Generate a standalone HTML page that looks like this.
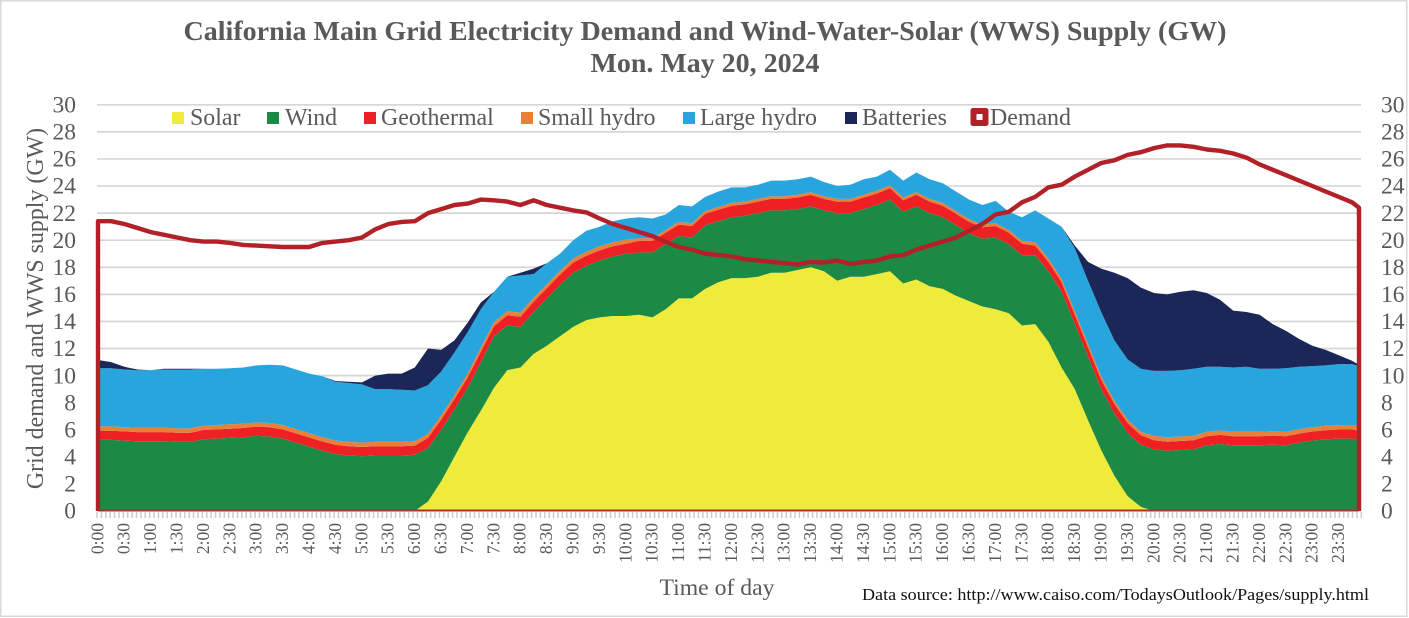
<!DOCTYPE html>
<html lang="en">
<head>
<meta charset="utf-8">
<title>California Main Grid Electricity Demand and WWS Supply</title>
<style>
html,body{margin:0;padding:0;background:#fff;}
svg{display:block;font-family:"Liberation Serif","Times New Roman",serif;}
</style>
</head>
<body>
<svg id="chart" xmlns="http://www.w3.org/2000/svg" width="1409" height="618" viewBox="0 0 1409 618">
  <rect x="0" y="0" width="1409" height="618" fill="#ffffff"/>
  <rect x="0.75" y="0.75" width="1406" height="615.5" fill="none" stroke="#d9d9d9" stroke-width="1.5"/>
  <text x="705" y="40" text-anchor="middle" font-size="27.5" font-weight="bold" fill="#595959" textLength="1043" lengthAdjust="spacingAndGlyphs">California Main Grid Electricity Demand and Wind-Water-Solar (WWS) Supply (GW)</text>
  <text x="705" y="72" text-anchor="middle" font-size="27.5" font-weight="bold" fill="#595959" textLength="229" lengthAdjust="spacingAndGlyphs">Mon. May 20, 2024</text>
  <g id="grid"></g>
  <g id="areas"></g>
  <g id="xticks"></g>
  <g id="xlabels"></g>
  <g id="ylabels"></g>
  <g id="demand"></g>
  <g font-size="23.9" fill="#595959">
    <g><rect x="172" y="112" width="12" height="12" fill="#EFEB3A"/><text x="190" y="125">Solar</text></g>
    <g><rect x="267" y="112" width="12" height="12" fill="#1C8A45"/><text x="285" y="125">Wind</text></g>
    <g><rect x="364" y="112" width="12" height="12" fill="#EE2024"/><text x="381" y="125">Geothermal</text></g>
    <g><rect x="521" y="112" width="12" height="12" fill="#E8803A"/><text x="538" y="125">Small hydro</text></g>
    <g><rect x="683" y="112" width="12" height="12" fill="#29A5DE"/><text x="700" y="125">Large hydro</text></g>
    <g><rect x="845" y="112" width="12" height="12" fill="#1C2759"/><text x="862" y="125">Batteries</text></g>
    <g><rect x="970.5" y="108" width="18" height="18" rx="2.5" fill="#B22128"/><rect x="976.5" y="114" width="6" height="6" fill="#ffffff"/><text x="990" y="125">Demand</text></g>
  </g>
  <text transform="translate(43,308.5) rotate(-90)" text-anchor="middle" font-size="23.9" fill="#595959">Grid demand and WWS supply (GW)</text>
  <text x="717" y="595" text-anchor="middle" font-size="23.7" fill="#595959">Time of day</text>
  <text x="862" y="600" font-size="17.3" fill="#111111" textLength="507" lengthAdjust="spacingAndGlyphs">Data source: http://www.caiso.com/TodaysOutlook/Pages/supply.html</text>
</svg>
<script>
// Values in GW, one sample every 15 minutes from 0:00, last sample at the end of the day.
const solarValues = [
0,0,0,0,0,0,0,0,0,0,
0,0,0,0,0,0,0,0,0,0,
0,0,0,0,0,.7,2.2,4.0,5.8,7.4,
9.1,10.4,10.6,11.6,12.2,12.9,13.6,14.1,14.3,14.4,
14.4,14.5,14.3,14.9,15.7,15.7,16.4,16.9,17.2,17.2,
17.3,17.6,17.6,17.8,18.0,17.7,17.0,17.3,17.3,17.5,
17.7,16.8,17.1,16.6,16.4,15.9,15.5,15.1,14.9,14.6,
13.7,13.8,12.5,10.6,9.0,6.7,4.5,2.6,1.1,.3,
0,0,0,0,0,0,0,0,0,0,
0,0,0,0,0,0,0];
const windValues = [
5.25,5.25,5.2,5.15,5.15,5.15,5.1,5.1,5.3,5.35,
5.4,5.45,5.55,5.5,5.35,5.05,4.75,4.45,4.2,4.1,
4.05,4.1,4.1,4.1,4.15,3.95,3.8,3.5,3.3,3.6,
3.8,3.3,3.0,3.1,3.5,3.8,4.0,4.0,4.2,4.4,
4.6,4.6,4.8,4.8,4.6,4.5,4.7,4.5,4.5,4.6,
4.7,4.6,4.6,4.5,4.5,4.5,5.0,4.7,5.0,5.1,
5.3,5.3,5.4,5.4,5.3,5.2,5.0,5.0,5.3,5.1,
5.2,5.1,5.2,5.6,4.8,4.7,4.5,4.6,4.7,4.6,
4.55,4.45,4.5,4.55,4.85,4.95,4.85,4.85,4.85,4.9,
4.85,5.05,5.2,5.3,5.35,5.35,5.25];
const geothermalValues = [
.68,.68,.68,.68,.68,.68,.68,.68,.68,.68,
.68,.68,.68,.68,.68,.68,.68,.68,.68,.68,
.68,.68,.68,.68,.68,.75,.75,.75,.75,.75,
.75,.75,.75,.75,.75,.75,.75,.75,.75,.75,
.75,.85,.85,.85,.85,.85,.85,.85,.85,.85,
.85,.85,.85,.85,.85,.85,.85,.85,.85,.85,
.85,.85,.85,.85,.85,.85,.85,.85,.85,.85,
.85,.7,.7,.7,.7,.7,.7,.7,.7,.7,
.67,.67,.67,.67,.67,.67,.67,.67,.67,.67,
.67,.67,.67,.67,.67,.67,.67];
const smallHydroValues = [
.32,.32,.32,.32,.32,.32,.32,.32,.32,.32,
.32,.32,.32,.32,.32,.32,.32,.32,.32,.32,
.32,.32,.32,.32,.32,.3,.3,.3,.3,.3,
.3,.3,.3,.3,.3,.3,.3,.3,.3,.3,
.3,.2,.2,.2,.2,.2,.2,.2,.2,.2,
.2,.2,.2,.2,.2,.2,.2,.2,.2,.2,
.2,.2,.2,.2,.2,.2,.2,.2,.2,.2,
.2,.25,.25,.25,.25,.25,.25,.25,.25,.25,
.33,.33,.33,.33,.33,.33,.33,.33,.33,.33,
.33,.33,.33,.33,.33,.33,.33];
const largeHydroValues = [
4.3,4.3,4.25,4.25,4.25,4.3,4.35,4.35,4.2,4.15,
4.15,4.15,4.2,4.3,4.4,4.4,4.4,4.5,4.35,4.35,
4.3,3.9,3.9,3.85,3.75,3.6,3.25,3.15,3.05,2.85,
2.25,2.55,2.75,1.75,1.55,1.25,1.35,1.55,1.45,1.55,
1.55,1.55,1.45,1.15,1.25,1.25,1.05,1.15,1.15,1.05,
1.05,1.15,1.15,1.15,1.15,1.05,.95,1.05,1.15,1.05,
1.15,1.25,1.45,1.45,1.45,1.45,1.45,1.45,1.65,1.35,
1.75,2.35,2.95,3.85,4.65,4.65,4.75,4.45,4.45,4.65,
4.8,4.9,4.9,4.95,4.8,4.7,4.75,4.8,4.65,4.6,
4.7,4.6,4.5,4.45,4.5,4.5,4.45];
const batteryValues = [
.6,.45,.2,.05,0,.05,.05,.05,0,0,
0,0,0,0,0,0,0,0,.05,.1,
.15,1.0,1.15,1.2,1.7,2.7,1.6,.9,.7,.5,
0,0,.2,.4,0,0,0,0,0,0,
0,0,0,0,0,0,0,0,0,0,
0,0,0,0,0,0,0,0,0,0,
0,0,0,0,0,0,0,0,0,0,
0,0,0,0,.2,1.4,3.2,5.0,6.0,6.0,
5.75,5.65,5.8,5.8,5.45,4.95,4.2,4.05,4.0,3.3,
2.75,2.05,1.5,1.15,.65,.25,.1];
const demandValues = [
21.4,21.4,21.2,20.9,20.6,20.4,20.2,20.0,19.9,19.9,
19.8,19.65,19.6,19.55,19.5,19.5,19.5,19.8,19.9,20.0,
20.2,20.8,21.2,21.35,21.4,22.0,22.3,22.6,22.7,23.0,
22.95,22.85,22.6,22.95,22.6,22.4,22.2,22.05,21.6,21.2,
20.9,20.6,20.3,19.9,19.5,19.3,19.0,18.9,18.8,18.6,
18.5,18.4,18.3,18.2,18.4,18.35,18.5,18.25,18.4,18.5,
18.8,18.9,19.3,19.6,19.9,20.2,20.7,21.2,21.9,22.1,
22.8,23.2,23.9,24.1,24.7,25.2,25.7,25.9,26.3,26.5,
26.8,27.0,27.0,26.9,26.7,26.6,26.4,26.1,25.6,25.2,
24.8,24.4,24.0,23.6,23.2,22.8,22.4];
const yTickLabels = [0,2,4,6,8,10,12,14,16,18,20,22,24,26,28,30];
const xTickLabels = ["0:00","0:30","1:00","1:30","2:00","2:30","3:00","3:30","4:00","4:30","5:00","5:30","6:00","6:30","7:00","7:30","8:00","8:30","9:00","9:30","10:00","10:30","11:00","11:30","12:00","12:30","13:00","13:30","14:00","14:30","15:00","15:30","16:00","16:30","17:00","17:30","18:00","18:30","19:00","19:30","20:00","20:30","21:00","21:30","22:00","22:30","23:00","23:30"];

const NS = "http://www.w3.org/2000/svg";
const yScale = v => 511 - v * 13.54;
const xScale = m => 98 + m * 0.88;
const sampleMinute = i => Math.min(i * 15, 1433);

const areaSeries = [
  {key: "area-solar", values: solarValues, color: "#EFEB3A"},
  {key: "area-wind", values: windValues, color: "#1C8A45"},
  {key: "area-geothermal", values: geothermalValues, color: "#EE2024"},
  {key: "area-small-hydro", values: smallHydroValues, color: "#E8803A"},
  {key: "area-large-hydro", values: largeHydroValues, color: "#29A5DE"},
  {key: "area-batteries", values: batteryValues, color: "#1C2759"}
];

const gridG = document.getElementById("grid");
const ylG = document.getElementById("ylabels");
yTickLabels.forEach(function (t) {
  const y = yScale(t);
  if (t > 0) {
    const ln = document.createElementNS(NS, "line");
    
    
    ln.setAttribute("x1", 97);
    ln.setAttribute("x2", 1361);
    ln.setAttribute("y1", y);
    ln.setAttribute("y2", y);
    ln.setAttribute("stroke", "#d6d6d6");
    ln.setAttribute("stroke-width", 1.7);
    gridG.appendChild(ln);
  }
  const left = document.createElementNS(NS, "text");
  
  
  left.setAttribute("x", 76);
  left.setAttribute("y", y + 7.7);
  left.setAttribute("text-anchor", "end");
  left.setAttribute("font-size", 23.5);
  left.setAttribute("fill", "#595959");
  left.textContent = t;
  ylG.appendChild(left);
  const right = document.createElementNS(NS, "text");
  
  
  right.setAttribute("x", 1381);
  right.setAttribute("y", y + 7.7);
  right.setAttribute("font-size", 23.5);
  right.setAttribute("fill", "#595959");
  right.textContent = t;
  ylG.appendChild(right);
});

// Stacked areas: each band is drawn from its base (sum of the lower layers) to its top.
const areasG = document.getElementById("areas");
const base = solarValues.map(function () { return 0; });
areaSeries.forEach(function (s) {
  const top = s.values.map(function (v, i) { return base[i] + v; });
  let d = "";
  top.forEach(function (v, i) {
    d += (i ? "L" : "M") + xScale(sampleMinute(i)).toFixed(1) + " " + yScale(v).toFixed(1);
  });
  for (let i = top.length - 1; i >= 0; i--) {
    d += "L" + xScale(sampleMinute(i)).toFixed(1) + " " + yScale(base[i]).toFixed(1);
  }
  d += "Z";
  const p = document.createElementNS(NS, "path");
  
  
  p.setAttribute("d", d);
  p.setAttribute("fill", s.color);
  areasG.appendChild(p);
  top.forEach(function (v, i) { base[i] = v; });
});

// Axis ticks every 5 minutes
const tickG = document.getElementById("xticks");
for (let m = 0; m <= 1440; m += 5) {
  const t = document.createElementNS(NS, "line");
  
  
  t.setAttribute("x1", 97 + m * 0.878);
  t.setAttribute("x2", 97 + m * 0.878);
  t.setAttribute("y1", 512);
  t.setAttribute("y2", 518);
  t.setAttribute("stroke", "#cccccc");
  t.setAttribute("stroke-width", 1.5);
  tickG.appendChild(t);
}

const xlG = document.getElementById("xlabels");
xTickLabels.forEach(function (lab, k) {
  const x = xScale(k * 30) - 0.5;
  const t = document.createElementNS(NS, "text");
  
  
  t.setAttribute("transform", "translate(" + (x + 5.8).toFixed(1) + ",523) rotate(-90)");
  t.setAttribute("text-anchor", "end");
  t.setAttribute("font-size", 17.5);
  t.setAttribute("fill", "#595959");
  t.textContent = lab;
  xlG.appendChild(t);
});

// Demand outline: drops to zero at both ends
const demandG = document.getElementById("demand");
let dPath = "M" + xScale(0) + " " + yScale(0);
demandValues.forEach(function (v, i) {
  dPath += "L" + xScale(sampleMinute(i)).toFixed(1) + " " + yScale(v).toFixed(1);
});
const lastX = xScale(sampleMinute(demandValues.length - 1));
dPath += "L" + lastX.toFixed(1) + " " + yScale(0);
const demandLine = document.createElementNS(NS, "path");


demandLine.setAttribute("d", dPath);
demandLine.setAttribute("fill", "none");
demandLine.setAttribute("stroke", "#B22128");
demandLine.setAttribute("stroke-width", 4.4);
demandLine.setAttribute("stroke-linejoin", "round");
demandG.appendChild(demandLine);
const baseLine = document.createElementNS(NS, "line");


baseLine.setAttribute("x1", xScale(0));
baseLine.setAttribute("x2", lastX);
baseLine.setAttribute("y1", 510.5);
baseLine.setAttribute("y2", 510.5);
baseLine.setAttribute("stroke", "#A5302C");
baseLine.setAttribute("stroke-width", 2);
demandG.appendChild(baseLine);
</script>
</body>
</html>
